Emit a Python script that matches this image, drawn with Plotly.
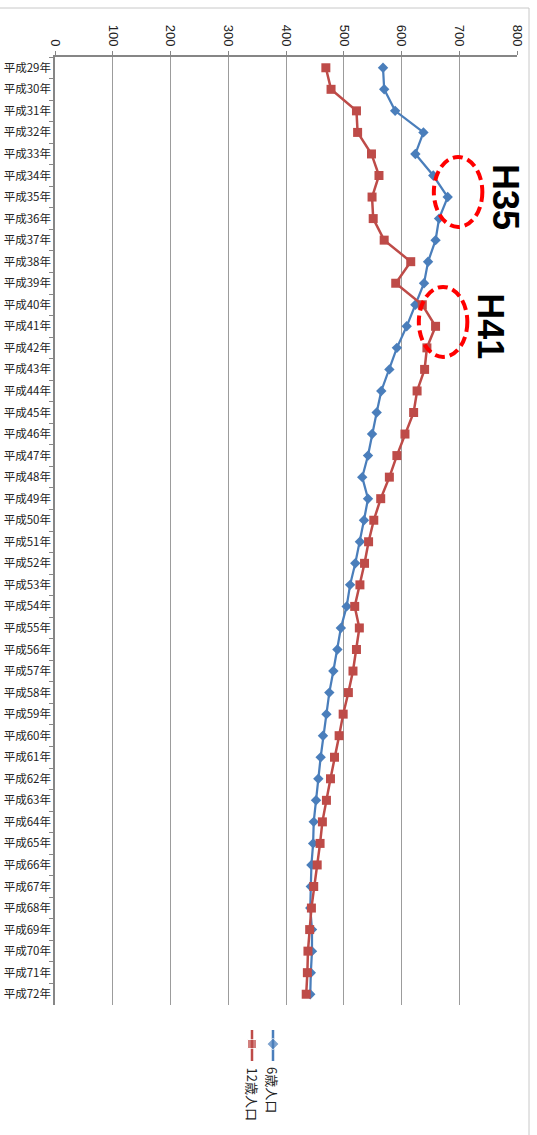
import plotly.graph_objects as go

# Fiscal years (Heisei era) shown on the category axis
years = [
    "平成29年", "平成30年", "平成31年", "平成32年", "平成33年", "平成34年",
    "平成35年", "平成36年", "平成37年", "平成38年", "平成39年", "平成40年",
    "平成41年", "平成42年", "平成43年", "平成44年", "平成45年", "平成46年",
    "平成47年", "平成48年", "平成49年", "平成50年", "平成51年", "平成52年",
    "平成53年", "平成54年", "平成55年", "平成56年", "平成57年", "平成58年",
    "平成59年", "平成60年", "平成61年", "平成62年", "平成63年", "平成64年",
    "平成65年", "平成66年", "平成67年", "平成68年", "平成69年", "平成70年",
    "平成71年", "平成72年",
]

# Population aged 6
pop6 = [
    568, 570, 589, 638, 624, 655, 680, 665, 659, 646, 639, 624,
    609, 592, 579, 565, 557, 549, 542, 532, 542, 535, 528, 520,
    511, 505, 495, 489, 482, 475, 470, 464, 460, 456, 452, 448,
    447, 444, 443, 442, 445, 445, 443, 442,
]

# Population aged 12
pop12 = [
    469, 478, 522, 524, 548, 561, 549, 551, 570, 616, 590, 636,
    659, 644, 640, 627, 621, 606, 592, 579, 564, 552, 543, 536,
    528, 519, 527, 522, 516, 508, 499, 492, 484, 477, 470, 463,
    459, 454, 448, 444, 441, 438, 437, 435,
]

x_ticks = [0, 100, 200, 300, 400, 500, 600, 700, 800]

W, H = 537, 1135
ML, MR, MT, MB = 55, 20, 57, 0
PLOT_BOTTOM = 1005
paper_h = H - MT - MB
y_split = (H - PLOT_BOTTOM) / paper_h

BLUE = "#4a7ebb"
RED = "#be4b48"
GRID = "#9c9c9c"
AXIS = "#868686"

fig = go.Figure()

fig.add_trace(go.Scatter(
    x=pop6, y=years, mode="lines+markers", name="6歳人口",
    line=dict(color=BLUE, width=2.25),
    marker=dict(symbol="diamond", size=8, color=BLUE),
    xaxis="x", yaxis="y", showlegend=False,
))
fig.add_trace(go.Scatter(
    x=pop12, y=years, mode="lines+markers", name="12歳人口",
    line=dict(color=RED, width=2.5),
    marker=dict(symbol="square", size=9, color=RED),
    xaxis="x", yaxis="y", showlegend=False,
))

# Hand-drawn vertical legend in the lower margin
legend_items = [
    ("6歳人口", BLUE, "diamond", 273),
    ("12歳人口", RED, "square", 252),
]
for label, color, symbol, lx in legend_items:
    fig.add_trace(go.Scatter(
        x=[lx, lx, lx], y=[1030, 1044, 1061], mode="lines+markers",
        line=dict(color=color, width=2.5),
        marker=dict(symbol=symbol, size=[0, 9, 0], color=color),
        xaxis="x2", yaxis="y2", showlegend=False, hoverinfo="skip",
    ))
    fig.add_annotation(
        x=lx, y=1065, xref="x2", yref="y2", text=label, textangle=90,
        showarrow=False, xanchor="center", yanchor="top",
        font=dict(family="Noto Sans CJK JP", size=13, color="#222222"),
    )

# Highlighted years
for txt, xv, yv in [("H35", 781, "平成35年"), ("H41", 755, "平成41年")]:
    fig.add_annotation(
        x=xv, y=yv, xref="x", yref="y", text=f"<b>{txt}</b>", textangle=90,
        showarrow=False, xanchor="center", yanchor="middle",
        font=dict(family="Liberation Sans", size=36, color="#000000"),
    )

shapes = [
    dict(type="circle", xref="x", yref="y", x0=656, x1=740, y0=4.14, y1=7.39,
         line=dict(color="#ff0000", width=4, dash="10px,5px")),
    dict(type="circle", xref="x", yref="y", x0=630, x1=714, y0=10.17, y1=13.42,
         line=dict(color="#ff0000", width=4, dash="10px,5px")),
    # chart frame (top and right edges)
    dict(type="line", xref="paper", yref="paper",
         x0=(0 - ML) / (W - ML - MR), x1=(529 - ML) / (W - ML - MR),
         y0=(H - 8) / paper_h, y1=(H - 8) / paper_h,
         line=dict(color="#c8c8c8", width=1)),
    dict(type="line", xref="paper", yref="paper",
         x0=(529 - ML) / (W - ML - MR), x1=(529 - ML) / (W - ML - MR),
         y0=(H - 8) / paper_h, y1=0,
         line=dict(color="#c8c8c8", width=1)),
]

fig.update_layout(
    width=W, height=H,
    margin=dict(l=ML, r=MR, t=MT, b=MB, pad=0),
    paper_bgcolor="white", plot_bgcolor="white",
    showlegend=False,
    shapes=shapes,
    xaxis=dict(
        domain=[0, 1], anchor="y", side="top", range=[0, 800],
        tickvals=x_ticks, ticktext=[str(v) for v in x_ticks], tickangle=90,
        showgrid=True, gridcolor=GRID, gridwidth=1,
        showline=True, linecolor=AXIS, linewidth=2,
        ticks="outside", ticklen=4, tickcolor=AXIS,
        tickfont=dict(family="Liberation Sans", size=13, color="#222222"),
        zeroline=False, mirror=False,
    ),
    yaxis=dict(
        domain=[y_split, 1], anchor="x", type="category",
        categoryorder="array", categoryarray=years,
        range=[len(years) - 0.5, -0.5],
        showgrid=False, showline=True, linecolor=AXIS, linewidth=1.5,
        ticks="outside", ticklen=4, tickcolor=AXIS, tickson="boundaries",
        tickfont=dict(family="Noto Sans CJK JP", size=11.5, color="#222222"),
        zeroline=False,
    ),
    xaxis2=dict(domain=[0, 1], anchor="y2", range=[ML, W - MR], visible=False),
    yaxis2=dict(domain=[0, y_split], anchor="x2", range=[H, PLOT_BOTTOM], visible=False),
)

fig.write_html("out.html")
